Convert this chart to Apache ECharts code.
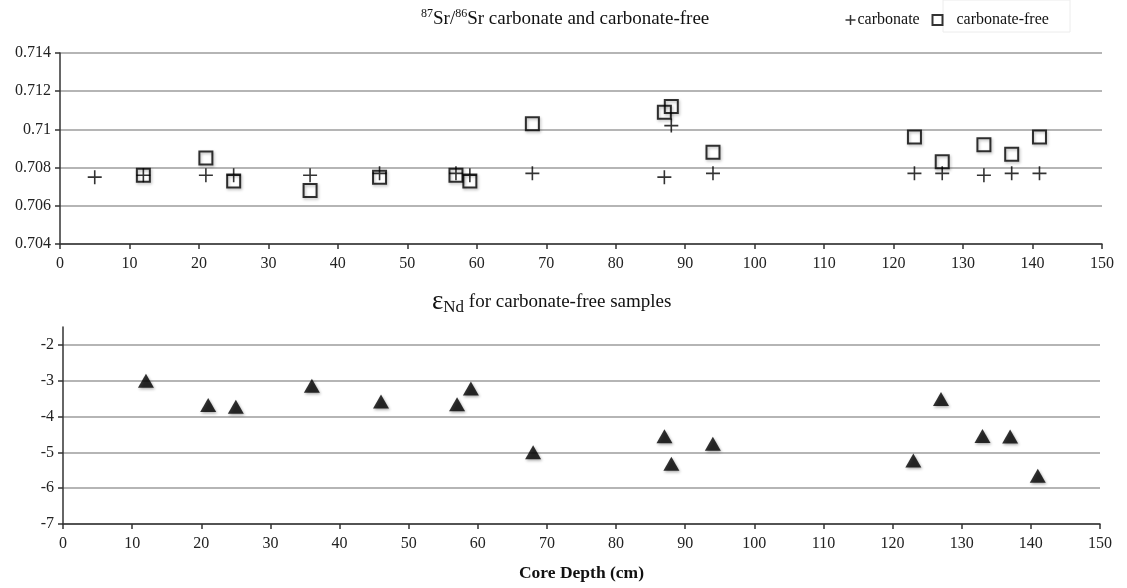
<!DOCTYPE html>
<html><head><meta charset="utf-8">
<script src="https://cdn.jsdelivr.net/npm/echarts@6/dist/echarts.min.js"></script>
<style>html,body{margin:0;padding:0;background:#fff}#c{width:1127px;height:588px}</style>
</head><body><div id="c"></div>
<script>
// ---- data ----
const depthCarb = [5, 12, 21, 25, 36, 46, 57, 59, 68, 87, 88, 94, 123, 127, 133, 137, 141];
const srCarb    = [0.7075, 0.7076, 0.7076, 0.7076, 0.7076, 0.7077, 0.7077, 0.7076, 0.7077, 0.7075, 0.7102, 0.7077, 0.7077, 0.7077, 0.7076, 0.7077, 0.7077];
const depthFree = [12, 21, 25, 36, 46, 57, 59, 68, 87, 88, 94, 123, 127, 133, 137, 141];
const srFree    = [0.7076, 0.7085, 0.7073, 0.7068, 0.7075, 0.7076, 0.7073, 0.7103, 0.7109, 0.7112, 0.7088, 0.7096, 0.7083, 0.7092, 0.7087, 0.7096];
const depthNd   = [12, 21, 25, 36, 46, 57, 59, 68, 87, 88, 94, 123, 127, 133, 137, 141];
const epsNd     = [-3.0, -3.68, -3.73, -3.14, -3.58, -3.66, -3.22, -5.0, -4.55, -5.32, -4.76, -5.23, -3.51, -4.54, -4.56, -5.65];
const ndTicks   = [-7, -6, -5, -4, -3, -2];
const seriesNames = ['carbonate', 'carbonate-free', 'εNd'];
const xTitle = 'Core Depth (cm)';

const FONT = 'Liberation Serif';
const pair = (xs, ys) => xs.map((x, i) => [x, ys[i]]);
const plusPath = 'path://M0,6L12,6M6,0L6,12';

const axisLineStyle = { lineStyle: { color: '#333', width: 1.5 } };
const labelStyle = { fontFamily: FONT, fontSize: 16, color: '#222' };
const gridLine = { show: true, lineStyle: { color: '#9c9c9c', width: 1.5 } };
const tickStyle = { color: '#333', width: 1.5 };

const chart = echarts.init(document.getElementById('c'));
chart.setOption({
  animation: false,
  backgroundColor: '#fff',
  title: [
    {
      left: 416, top: 3,
      text: '{sup|87}{n|Sr/}{sup|86}{n|Sr carbonate and carbonate-free}',
      textStyle: {
        rich: {
          sup: { fontFamily: FONT, fontSize: 12, fontWeight: 'normal', color: '#111', verticalAlign: 'top', lineHeight: 12 },
          n: { fontFamily: FONT, fontSize: 19, fontWeight: 'normal', color: '#111', lineHeight: 23 }
        }
      }
    },
    {
      left: 427, top: 283,
      text: '{eps|ε}{sub|Nd}{n| for carbonate-free samples}',
      textStyle: {
        rich: {
          eps: { fontFamily: FONT, fontSize: 27, fontWeight: 'normal', color: '#111', lineHeight: 28 },
          sub: { fontFamily: FONT, fontSize: 17, fontWeight: 'normal', color: '#111', verticalAlign: 'bottom', lineHeight: 14 },
          n: { fontFamily: FONT, fontSize: 19, fontWeight: 'normal', color: '#111', lineHeight: 28 }
        }
      }
    }
  ],
  legend: [
    {
      left: 843, top: 12, padding: 0, itemWidth: 10, itemHeight: 10,
      data: [{ name: seriesNames[0], icon: plusPath }],
      itemStyle: { color: 'none', borderColor: '#000', borderWidth: 1.5 },
      textStyle: { fontFamily: FONT, fontSize: 16, color: '#111', padding: [0, 0, 0, -3] }
    },
    {
      left: 930, top: 12, padding: 0, itemWidth: 10, itemHeight: 10,
      data: [{ name: seriesNames[1], icon: 'rect' }],
      itemStyle: { color: 'none', borderColor: '#000', borderWidth: 2 },
      textStyle: { fontFamily: FONT, fontSize: 16, color: '#111', padding: [0, 0, 0, 9] }
    }
  ],
  graphic: [
    { type: 'rect', shape: { x: 943, y: 0, width: 127, height: 32 }, style: { fill: 'none', stroke: '#ececec', lineWidth: 1 }, silent: true, z: -1 }
  ],
  grid: [
    { left: 60, right: 25, top: 53, height: 191 },
    { left: 63, right: 27, top: 327, height: 197 }
  ],
  xAxis: [
    {
      gridIndex: 0, type: 'value', min: 0, max: 150, interval: 10,
      axisLine: axisLineStyle, axisTick: { show: true, length: 5, lineStyle: tickStyle },
      axisLabel: Object.assign({ margin: 12 }, labelStyle), splitLine: { show: false }
    },
    {
      gridIndex: 1, type: 'value', min: 0, max: 150, interval: 10,
      axisLine: axisLineStyle, axisTick: { show: true, length: 5, lineStyle: tickStyle },
      axisLabel: Object.assign({ margin: 12 }, labelStyle), splitLine: { show: false },
      name: xTitle, nameLocation: 'middle', nameGap: 40,
      nameTextStyle: { fontFamily: FONT, fontSize: 17.5, fontWeight: 'bold', color: '#111' }
    }
  ],
  yAxis: [
    {
      gridIndex: 0, type: 'value', min: 0.704, max: 0.714, interval: 0.002,
      axisLine: Object.assign({ show: true }, axisLineStyle),
      axisTick: { show: true, length: 5, lineStyle: tickStyle },
      axisLabel: Object.assign({ margin: 9 }, labelStyle),
      splitLine: gridLine
    },
    {
      gridIndex: 1, type: 'value', min: -7, max: -1.5, interval: 1,
      axisLine: Object.assign({ show: true }, axisLineStyle),
      axisTick: { show: true, length: 5, customValues: ndTicks, lineStyle: tickStyle },
      axisLabel: Object.assign({ margin: 9, customValues: ndTicks }, labelStyle),
      splitLine: gridLine
    }
  ],
  series: [
    {
      name: seriesNames[0], type: 'scatter', xAxisIndex: 0, yAxisIndex: 0,
      data: pair(depthCarb, srCarb), symbol: plusPath, symbolSize: 14,
      itemStyle: { color: 'none', borderColor: '#000', borderWidth: 1.6 }, z: 3
    },
    {
      name: seriesNames[1], type: 'scatter', xAxisIndex: 0, yAxisIndex: 0,
      data: pair(depthFree, srFree), symbol: 'rect', symbolSize: 13,
      itemStyle: { color: 'none', borderColor: '#000', borderWidth: 2,
        shadowBlur: 3, shadowColor: 'rgba(0,0,0,0.35)', shadowOffsetX: 1, shadowOffsetY: 1.5 }, z: 2
    },
    {
      name: seriesNames[2], type: 'scatter', xAxisIndex: 1, yAxisIndex: 1,
      data: pair(depthNd, epsNd), symbol: 'triangle', symbolSize: [16, 14],
      itemStyle: { color: '#000',
        shadowBlur: 3, shadowColor: 'rgba(0,0,0,0.4)', shadowOffsetX: 1, shadowOffsetY: 1.5 }
    }
  ]
});
</script>
</body></html>
